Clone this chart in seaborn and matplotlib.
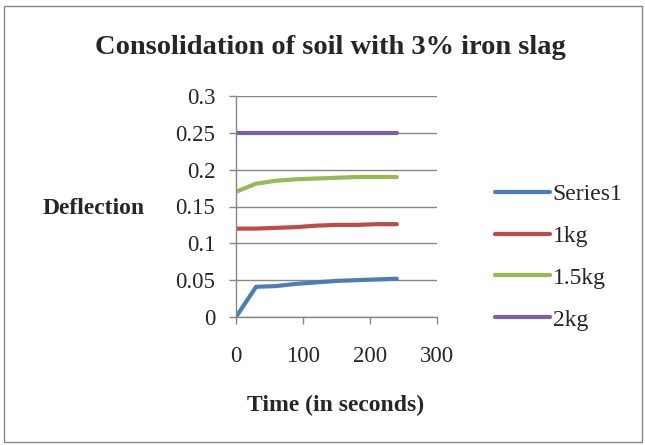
import matplotlib
matplotlib.use("Agg")
import matplotlib.pyplot as plt
import seaborn as sns
import pandas as pd
from matplotlib.patches import Rectangle

time_s = [0, 30, 60, 90, 120, 150, 180, 210, 240]
series1 = [0.0, 0.041, 0.042, 0.045, 0.047, 0.049, 0.050, 0.051, 0.052]
kg1 = [0.120, 0.120, 0.121, 0.122, 0.124, 0.125, 0.125, 0.126, 0.126]
kg15 = [0.170, 0.181, 0.185, 0.187, 0.188, 0.189, 0.190, 0.190, 0.190]
kg2 = [0.25, 0.25, 0.25, 0.25, 0.25, 0.25, 0.25, 0.25, 0.25]
names = ["Series1", "1kg", "1.5kg", "2kg"]
colors = ["#4A7EBB", "#BE4B48", "#98B954", "#7D60A0"]

rows = []
for name, vals in zip(names, [series1, kg1, kg15, kg2]):
    for t, v in zip(time_s, vals):
        rows.append({"Time": t, "Deflection": v, "Series": name})
df = pd.DataFrame(rows)

sns.set_style("white")
plt.rcParams["font.family"] = ["Liberation Serif", "DejaVu Serif"]

fig = plt.figure(figsize=(6.45, 4.45), dpi=100)
ax = fig.add_axes([236/645, 1-317/445, (437-236)/645, (317-96)/445])

sns.lineplot(data=df, x="Time", y="Deflection", hue="Series", hue_order=names,
             palette=colors, linewidth=3.0, ax=ax, legend=False,
             solid_capstyle="round", solid_joinstyle="round")

ax.set_xlim(0, 300)
ax.set_ylim(0, 0.3)
ax.set_xticks([0, 100, 200, 300])
ax.set_yticks([0, 0.05, 0.1, 0.15, 0.2, 0.25, 0.3])
ax.set_yticklabels(["0", "0.05", "0.1", "0.15", "0.2", "0.25", "0.3"])
ax.yaxis.grid(True, color="#868686", linewidth=1)
ax.xaxis.grid(False)
ax.set_axisbelow(True)
for s in ["top", "right"]:
    ax.spines[s].set_visible(False)
for s in ["left", "bottom"]:
    ax.spines[s].set_color("#868686")
    ax.spines[s].set_linewidth(1)
ax.tick_params(axis="both", which="both", direction="out", length=5, width=1,
               color="#868686", labelsize=16.5, left=True, bottom=True)
ax.tick_params(axis="y", pad=10)
ax.tick_params(axis="x", pad=16)
ax.set_xlabel("")
ax.set_ylabel("")
fig.text(336/645, 1-405/445, "Time (in seconds)", fontsize=17, fontweight="bold",
         ha="center", va="center")
fig.text(94/645, 1-208/445, "Deflection", fontsize=17, fontweight="bold",
         ha="center", va="center")

fig.text(330/645, 1-48/445, "Consolidation of soil with 3% iron slag", fontsize=20.5,
         fontweight="bold", ha="center", va="center")

handles = [plt.Line2D([], [], color=c, linewidth=3.0) for c in colors]
fig.legend(handles, names, loc="center left", bbox_to_anchor=(495/645, 1-257/445),
           frameon=False, fontsize=17, handlelength=2.35, handletextpad=0.1,
           labelspacing=0.86, borderaxespad=0, borderpad=0)

fig.patches.append(Rectangle((4/645, 1-442/445), 638/645, 436/445, transform=fig.transFigure,
                             fill=False, edgecolor="#868686", linewidth=1))

fig.savefig("out.png", dpi=100)
